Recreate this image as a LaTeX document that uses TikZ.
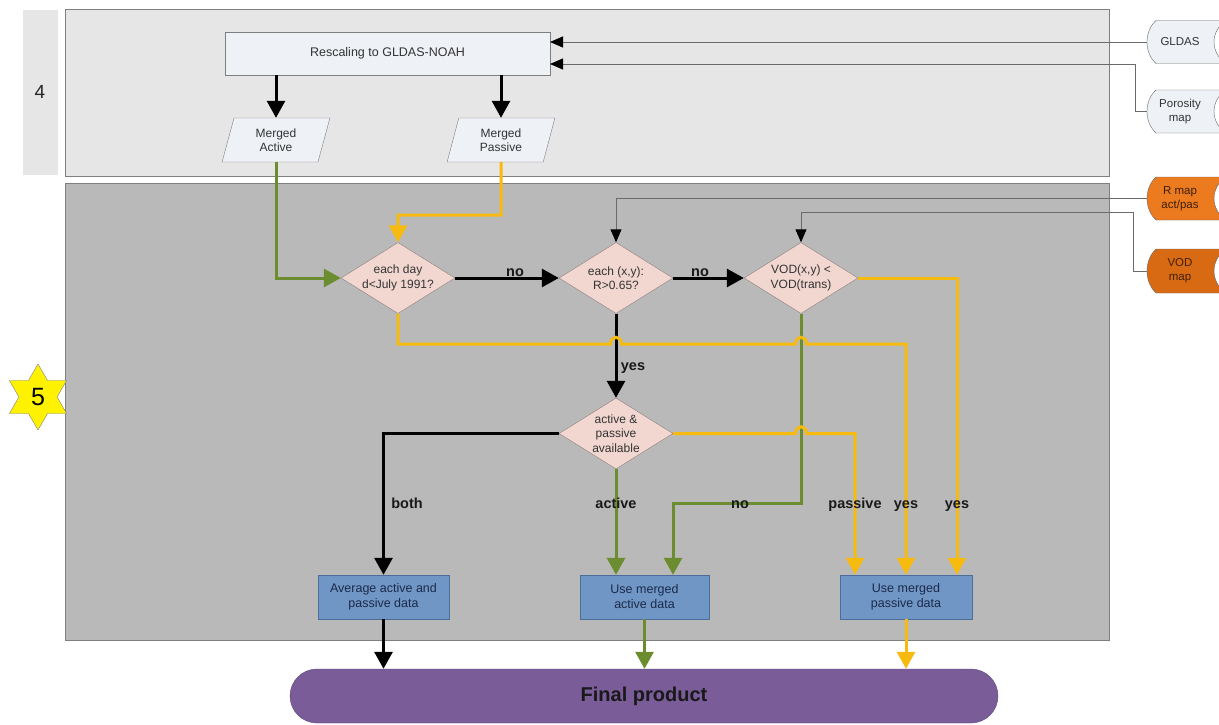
\documentclass[tikz,border=0pt]{standalone}
\usepackage{fontspec}
\setmainfont{Liberation Sans}
\usetikzlibrary{shapes.geometric,arrows.meta}
\definecolor{panelA}{HTML}{E6E6E6}
\definecolor{panelB}{HTML}{B9B9B9}
\definecolor{pborder}{HTML}{7F7F7F}
\definecolor{lightfill}{HTML}{EEF1F6}
\definecolor{dmfill}{HTML}{F2D7D1}
\definecolor{dmborder}{HTML}{8E7E7B}
\definecolor{bluefill}{HTML}{7096C6}
\definecolor{blueborder}{HTML}{4D6D99}
\definecolor{bluetext}{HTML}{1B2A48}
\definecolor{purp}{HTML}{7A5C99}
\definecolor{purpborder}{HTML}{5C4578}
\definecolor{grn}{HTML}{6B8C2F}
\definecolor{ylw}{HTML}{F7BA0F}
\definecolor{orgA}{HTML}{EC7A1E}
\definecolor{orgB}{HTML}{D96A14}
\definecolor{thinln}{HTML}{6A6A6A}
\newcommand\stshape[3]{%
  \draw[draw=thinln,fill=#1] (1156,#2-#3) .. controls (1144,#2-#3/2) and (1144,#2+#3/2) .. (1156,#2+#3)
    -- (1226,#2+#3) .. controls (1210,#2+#3/2) and (1210,#2-#3/2) .. (1226,#2-#3) -- cycle;}
\begin{document}
\begin{tikzpicture}[x=1pt,y=-1pt,
  lightbox/.style={draw=pborder,fill=lightfill,text=black!80,font=\fontsize{12.5}{15}\selectfont,inner sep=0pt},
  para/.style={trapezium,trapezium left angle=76,trapezium right angle=104,trapezium stretches=true,
    draw=pborder,fill=lightfill,text=black!80,font=\fontsize{12}{14.5}\selectfont,align=center,
    minimum width=108pt,minimum height=44pt,inner sep=0pt},
  dm/.style={diamond,aspect=1.6,draw=dmborder,fill=dmfill,text=black!80,inner sep=0pt,
    minimum width=114pt,minimum height=71pt,align=center,font=\fontsize{12}{14.5}\selectfont},
  bluebox/.style={draw=blueborder,fill=bluefill,text=bluetext,align=center,inner sep=0pt,
    minimum height=44pt,font=\fontsize{12.5}{15}\selectfont},
  sttext/.style={align=center,font=\fontsize{11.5}{14}\selectfont,inner sep=0pt},
  thinarrow/.style={draw=thinln,line width=0.9pt,-{Triangle[length=13pt,width=11pt]},arrows={[color=black]}},
  bigarrow/.style={line width=3pt,-{Triangle[length=17pt,width=18pt]}},
  blk/.style={bigarrow,draw=black},
  grnl/.style={bigarrow,draw=grn},
  ylwl/.style={bigarrow,draw=ylw},
  lbl/.style={font=\bfseries\fontsize{14.5}{17}\selectfont,text=black!90,inner sep=0pt,anchor=base}]
\useasboundingbox (0,0) rectangle (1219,725);
\fill[white] (0,0) rectangle (1219,725);
% panels
\fill[panelA] (23,10) rectangle (58,175);
\node[font=\fontsize{19}{21}\selectfont,text=black!85] (lab4) at (40,92) {4};
\draw[draw=pborder,fill=panelA,line width=0.9pt] (65,9) rectangle (1109,176);
\draw[draw=pborder,fill=panelB,line width=0.9pt] (65,183) rectangle (1109,640);
\node[star,star points=6,star point ratio=1.73,minimum size=66pt,inner sep=0pt,
  draw=black!50,fill=yellow,font=\fontsize{25}{27}\selectfont] (star5) at (38,397) {5};
% stored data shapes
\stshape{lightfill}{42}{21.5}
\stshape{lightfill}{111.5}{21.5}
\stshape{orgA}{198.5}{21.5}
\stshape{orgB}{271}{22}
\node[sttext,text=black!80] (gldas) at (1180,42) {GLDAS};
\node[sttext,text=black!80] (poro) at (1180,111.5) {Porosity\\map};
\node[sttext,text=black!75!orgA] (rmap) at (1180,198.5) {R map\\act/pas};
\node[sttext,text=black!70!orgB] (vodm) at (1180,271) {VOD\\map};
\coordinate (gldasin) at (1147,42);
\coordinate (poroin) at (1147,111.5);
\coordinate (rmapin) at (1147,198.5);
\coordinate (vodin) at (1147,271);
% nodes
\node[lightbox,minimum width=325pt,minimum height=43pt] (resc) at (387.5,53.5) {Rescaling to GLDAS-NOAH};
\node[para] (mact) at (276,140) {Merged\\Active};
\node[para] (mpas) at (501,140) {Merged\\Passive};
\node[dm] (d1) at (398,278) {each day\\d<July 1991?};
\node[dm] (d2) at (616,278) {each (x,y):\\R>0.65?};
\node[dm] (d3) at (801,278) {VOD(x,y) <\\VOD(trans)};
\node[dm] (d4) at (616,433.5) {active \&\\passive\\available};
\node[bluebox,minimum width=131pt] (avg) at (383.5,597) {Average active and\\passive data};
\node[bluebox,minimum width=129pt] (act) at (644.5,597) {Use merged\\active data};
\node[bluebox,minimum width=132pt] (pas) at (906,597) {Use merged\\passive data};
\node[draw=purpborder,fill=purp,rounded corners=27pt,minimum width=708pt,minimum height=54pt,
  font=\bfseries\fontsize{20}{22}\selectfont,text=black!90] (fin) at (644,696) {Final product};
\coordinate (rin1) at (550,42);
\coordinate (rin2) at (550,64);
% thin input connectors
\draw[thinarrow] (gldasin) -- (rin1);
\draw[thinarrow] (poroin) -- (1135,111.5) -- (1135,64) -- (rin2);
\draw[thinarrow] (rmapin) -| (d2.north);
\draw[thinarrow] (vodin) -- (1133,271) -- (1133,212) -| (d3.north);
% black
\draw[blk] (resc.south -| mact.north) -- (mact.north);
\draw[blk] (resc.south -| mpas.north) -- (mpas.north);
\draw[blk] (d1.east) -- (d2.west);
\draw[blk] (d2.east) -- (d3.west);
\draw[blk] (d2.south) -- (d4.north);
\draw[blk] (d4.west) -| (avg.north);
\draw[blk] (avg.south) -- (avg.south |- fin.north);
% green
\draw[grnl] (mact.south) |- (d1.west);
\draw[grnl] (d3.south) -- (801,503) -| ([xshift=28.5pt]act.north);
\draw[grnl] (d4.south) -- (act.north -| d4.south);
\draw[grnl] (act.south) -- (act.south |- fin.north);
% yellow
\draw[ylwl] (mpas.south) -- (501,215) -| (d1.north);
\draw[ylwl] (d1.south) -- (398,344) -- (610.5,344) .. controls (610.5,335) and (621.5,335) .. (621.5,344)
  -- (795.5,344) .. controls (795.5,335) and (806.5,335) .. (806.5,344) -| (pas.north);
\draw[ylwl] (d3.east) -| ([xshift=51pt]pas.north);
\draw[ylwl] (d4.east) -- (795.5,433.5) .. controls (795.5,424.5) and (806.5,424.5) .. (806.5,433.5)
  -| ([xshift=-51pt]pas.north);
\draw[ylwl] (pas.south) -- (pas.south |- fin.north);
% labels
\node[lbl] (lno1) at (515,276) {no};
\node[lbl] (lno2) at (700,276) {no};
\node[lbl] (lyes1) at (633,370) {yes};
\node[lbl] (lboth) at (407,508) {both};
\node[lbl] (lact) at (616,508) {active};
\node[lbl] (lno3) at (740,508) {no};
\node[lbl] (lpas) at (855,508) {passive};
\node[lbl] (lyes2) at (906,508) {yes};
\node[lbl] (lyes3) at (957,508) {yes};
\end{tikzpicture}
\end{document}
